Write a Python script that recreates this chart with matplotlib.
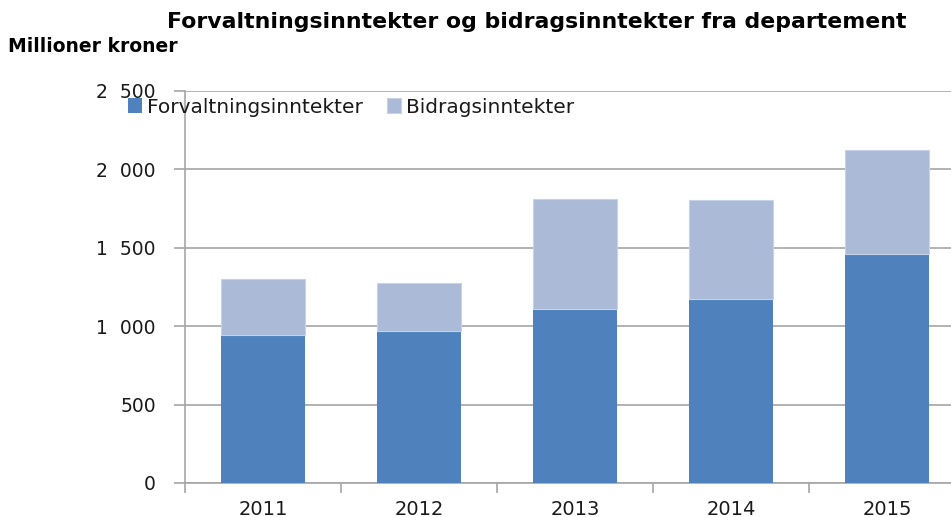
import numpy as np
import matplotlib.pyplot as plt
from matplotlib.ticker import FuncFormatter, FixedLocator

years = ['2011', '2012', '2013', '2014', '2015']
forvaltning = [943, 970, 1111, 1173, 1458]
bidrag_total = [1301, 1277, 1810, 1803, 2124]
bidrag = [t - f for t, f in zip(bidrag_total, forvaltning)]

blue = '#4F81BD'
light = '#AABAD7'
grid_col = '#A6A6A6'
txt_col = '#1A1A1A'

plt.rcParams['font.family'] = ['DejaVu Sans']

fig = plt.figure(figsize=(9.51, 5.17), dpi=100)
# axes extend slightly past the right edge like the original crop
ax = fig.add_axes([185 / 951, 34 / 517, (965 - 185) / 951, (483 - 91) / 517])

x = np.arange(len(years))
ax.bar(x, forvaltning, width=0.54, color=blue, zorder=3, label='Forvaltningsinntekter')
ax.bar(x, bidrag, width=0.54, bottom=forvaltning, color=light, edgecolor='#C8D3E8',
       linewidth=0.8, zorder=3, label='Bidragsinntekter')

ax.set_xlim(-0.5, len(years) - 0.5)
ax.set_ylim(0, 2500)
ax.set_yticks(np.arange(0, 2501, 500))
ax.yaxis.set_major_formatter(FuncFormatter(lambda v, p: f'{int(v):,}'.replace(',', '  ')))
ax.grid(axis='y', color=grid_col, linewidth=1.2, zorder=0)

# category labels centred, ticks on boundaries
ax.set_xticks(x)
ax.set_xticklabels(years)
ax.xaxis.set_minor_locator(FixedLocator(np.arange(-0.5, len(years), 1.0)))
ax.tick_params(axis='x', which='major', length=0, labelsize=14, pad=12, labelcolor=txt_col)
ax.tick_params(axis='x', which='minor', length=7, color=grid_col, width=1.2)
ax.tick_params(axis='y', length=8, color=grid_col, width=1.2, labelsize=13.5, pad=13,
               labelcolor=txt_col)

for s in ['top', 'right']:
    ax.spines[s].set_visible(False)
for s in ['left', 'bottom']:
    ax.spines[s].set_color(grid_col)
    ax.spines[s].set_linewidth(1.2)

fig.text(537 / 951, 1 - 22 / 517, 'Forvaltningsinntekter og bidragsinntekter fra departement',
         ha='center', va='center', fontsize=15.8, fontweight='bold', color='black')
fig.text(8 / 951, 1 - 46 / 517, 'Millioner kroner', ha='left', va='center',
         fontsize=13.5, fontweight='bold', color='black')

leg = fig.legend(loc='center left', bbox_to_anchor=(128 / 951, 1 - 107 / 517), ncol=2,
                 frameon=False, fontsize=14.5, handlelength=0.7, handleheight=0.7,
                 handletextpad=0.25, columnspacing=1.2, borderaxespad=0, borderpad=0)
for t in leg.get_texts():
    t.set_color(txt_col)

fig.savefig('out.png', dpi=100)
